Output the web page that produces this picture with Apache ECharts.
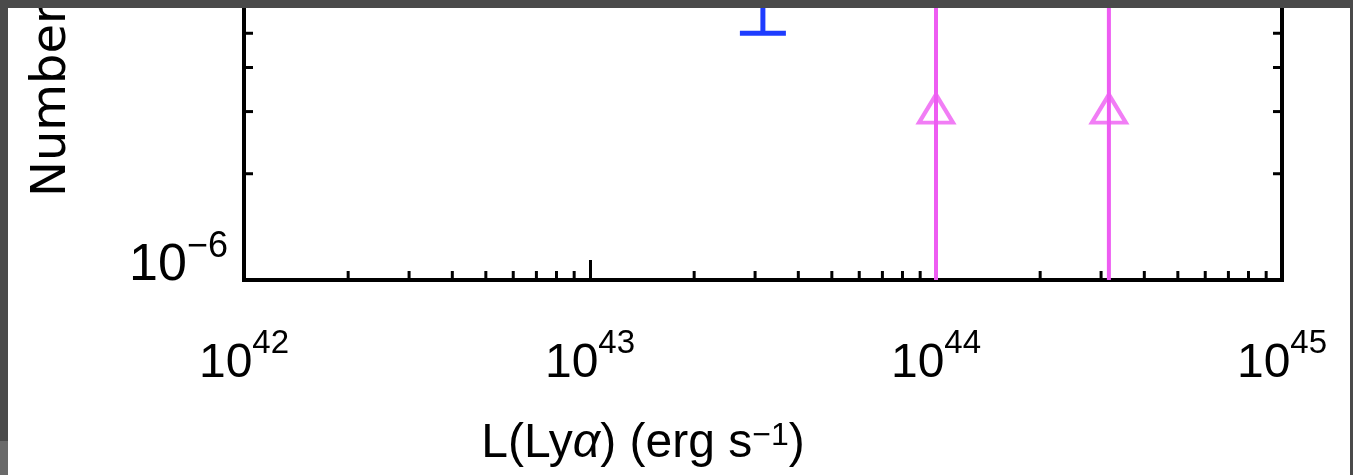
<!DOCTYPE html>
<html>
<head>
<meta charset="utf-8">
<script src="https://cdn.jsdelivr.net/npm/echarts@6/dist/echarts.min.js"></script>
<style>
html,body{margin:0;padding:0;background:#fff;}
#chart{width:1353px;height:475px;}
</style>
</head>
<body>
<div id="chart"></div>
<script>
// ---- data ----
const xTickExponents = [42, 43, 44, 45];
const yTickExponents = [-6, -5];
const yLabelExponents = [-6];
const minorMultipliers = [2, 3, 4, 5, 6, 7, 8, 9];
const xMin = 1e42, xMax = 1e45;
const yMin = 1e-6, yMax = 1e-5;

// blue point (only its lower error bar end is visible)
const blueX = [3.16e43];
const blueErrLow = [5e-6];
const blueErrHigh = [1e-5];

// magenta lower-limit points
const limitX = [1e44, 3.16e44];
const limitY = [3e-6, 3e-6];
const limitErrLow = [1e-6, 1e-6];
const limitErrHigh = [1e-5, 1e-5];

const BLUE = '#1e3cff';
const MAGENTA = '#ee5cf2';
const FONT = 'Liberation Sans';

// minor tick positions (axis decoration)
const minorTickData = [];
for (let d = xTickExponents[0]; d < xTickExponents[xTickExponents.length - 1]; d++) {
  minorMultipliers.forEach(m => minorTickData.push([m * Math.pow(10, d), yMin, 0]));
}
for (let d = yTickExponents[0]; d < yTickExponents[yTickExponents.length - 1]; d++) {
  minorMultipliers.forEach(m => {
    minorTickData.push([xMin, m * Math.pow(10, d), 1]);
    minorTickData.push([xMax, m * Math.pow(10, d), 2]);
  });
}

function expLabel(v, list) {
  const e = Math.round(Math.log10(v));
  if (list.indexOf(e) < 0) return '';
  return '{b|10}{s|' + String(e).replace('-', '\u2212') + '}';
}

const xRich = {
  b: {fontFamily: FONT, fontSize: 48, lineHeight: 56, verticalAlign: 'bottom', color: '#000'},
  s: {fontFamily: FONT, fontSize: 33, lineHeight: 20, verticalAlign: 'bottom', padding: [0, 0, 28, 0], color: '#000'}
};
const yRich = {
  b: {fontFamily: FONT, fontSize: 52, lineHeight: 56, verticalAlign: 'bottom', color: '#000'},
  s: {fontFamily: FONT, fontSize: 36, lineHeight: 22, verticalAlign: 'bottom', padding: [0, 0, 27, 0], color: '#000'}
};

const chart = echarts.init(document.getElementById('chart'), null, {renderer: 'canvas'});
chart.setOption({
  animation: false,
  backgroundColor: '#fff',
  grid: {left: 244, right: 71, bottom: 195, top: -73, outerBoundsMode: 'none', containLabel: false,
         show: true, borderColor: '#000', borderWidth: 4, backgroundColor: 'transparent'},
  xAxis: {
    type: 'log', logBase: 10, min: xMin, max: xMax, interval: 1,
    axisLine: {show: false},
    axisTick: {show: true, inside: true, length: 20, lineStyle: {color: '#000', width: 3}},
    splitLine: {show: false},
    axisLabel: {
      margin: 52,
      formatter: v => expLabel(v, xTickExponents),
      rich: xRich
    },
    name: 'L(Ly{a|\u03b1}) (erg s{s|\u22121})',
    nameLocation: 'middle',
    nameGap: 140,
    nameTextStyle: {
      fontFamily: FONT, fontSize: 48, color: '#000', padding: [0, 240, 0, 0],
      rich: {
        a: {fontFamily: FONT, fontSize: 48, fontStyle: 'italic', color: '#000'},
        s: {fontFamily: FONT, fontSize: 32, verticalAlign: 'top', lineHeight: 20, color: '#000'}
      }
    }
  },
  yAxis: {
    type: 'log', logBase: 10, min: yMin, max: yMax, interval: 1,
    axisLine: {show: false},
    axisTick: {show: true, inside: true, length: 20, lineStyle: {color: '#000', width: 3}},
    splitLine: {show: false},
    axisLabel: {
      margin: 16,
      padding: [0, 0, 32, 0],
      formatter: v => expLabel(v, yLabelExponents),
      rich: yRich
    }
  },
  graphic: [
    {type: 'text', x: 53, y: 197, rotation: Math.PI / 2, z: 50,
     style: {text: 'Number', font: '48px "DejaVu Sans"', fill: '#000', align: 'left', verticalAlign: 'middle'}},
    {type: 'rect', z: 100, shape: {x: 0, y: 0, width: 1353, height: 8}, style: {fill: '#4a4a4a'}},
    {type: 'rect', z: 100, shape: {x: 0, y: 8, width: 8, height: 433}, style: {fill: '#4a4a4a'}},
    {type: 'rect', z: 100, shape: {x: 0, y: 441, width: 8, height: 34}, style: {fill: '#6a6a6a'}},
    {type: 'rect', z: 100, shape: {x: 1350, y: 0, width: 3, height: 475}, style: {fill: '#4a4a4a'}}
  ],
  series: [
    {
      name: 'minor ticks', type: 'custom', silent: true, z: 1,
      data: minorTickData,
      renderItem: (params, api) => {
        const p = api.coord([api.value(0), api.value(1)]);
        const kind = api.value(2);
        const len = 9;
        let shape;
        if (kind === 0) shape = {x1: p[0], y1: p[1], x2: p[0], y2: p[1] - len};
        else if (kind === 1) shape = {x1: p[0], y1: p[1], x2: p[0] + len, y2: p[1]};
        else shape = {x1: p[0], y1: p[1], x2: p[0] - len, y2: p[1]};
        return {type: 'line', shape, style: {stroke: '#000', lineWidth: 3}};
      }
    },
    {
      name: 'blue error bar', type: 'custom', z: 3,
      data: blueX.map((x, i) => [x, blueErrLow[i], blueErrHigh[i]]),
      renderItem: (params, api) => {
        const lo = api.coord([api.value(0), api.value(1)]);
        const hi = api.coord([api.value(0), api.value(2)]);
        const cap = 23;
        const st = {stroke: BLUE, lineWidth: 5};
        return {type: 'group', children: [
          {type: 'line', shape: {x1: lo[0], y1: lo[1], x2: hi[0], y2: hi[1]}, style: st},
          {type: 'line', shape: {x1: lo[0] - cap, y1: lo[1], x2: lo[0] + cap, y2: lo[1]}, style: st},
          {type: 'line', shape: {x1: hi[0] - cap, y1: hi[1], x2: hi[0] + cap, y2: hi[1]}, style: st}
        ]};
      }
    },
    {
      name: 'limit bars', type: 'custom', z: 3,
      data: limitX.map((x, i) => [x, limitErrLow[i], limitErrHigh[i]]),
      renderItem: (params, api) => {
        const lo = api.coord([api.value(0), api.value(1)]);
        const hi = api.coord([api.value(0), api.value(2)]);
        return {type: 'line', shape: {x1: lo[0], y1: lo[1], x2: hi[0], y2: hi[1]}, style: {stroke: MAGENTA, lineWidth: 4}};
      }
    },
    {
      name: 'limits', type: 'scatter', z: 4,
      data: limitX.map((x, i) => [x, limitY[i]]),
      symbol: 'triangle', symbolSize: [34, 28], symbolOffset: [0, -3],
      itemStyle: {color: 'rgba(0,0,0,0)', borderColor: MAGENTA, borderWidth: 4}
    }
  ]
});
</script>
</body>
</html>
